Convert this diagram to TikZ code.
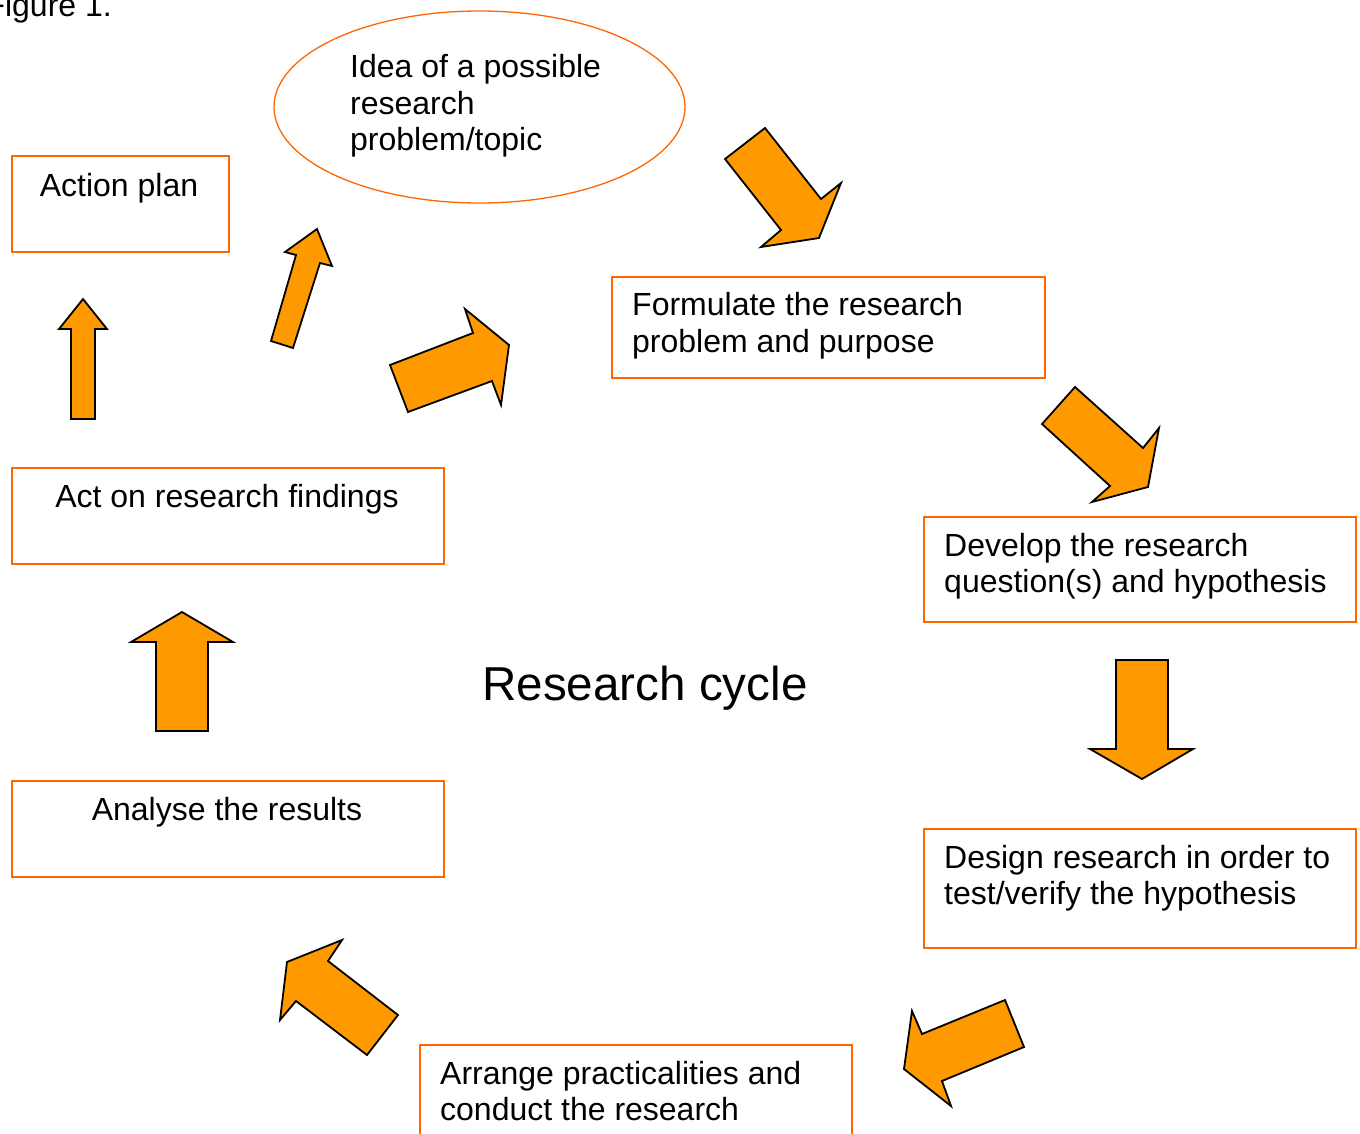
\documentclass[tikz,border=0pt]{standalone}
\usepackage{fontspec}
\setmainfont{Liberation Sans}
\usetikzlibrary{shapes.geometric}

\definecolor{boxorange}{RGB}{255,102,0}
\definecolor{arroworange}{RGB}{255,153,0}

\tikzset{
	cyclebox/.style={draw=boxorange, line width=1.6pt, inner sep=0pt, anchor=north west},
	cycletext/.style={font=\fontsize{32}{36.5}\selectfont, inner sep=0pt, align=left},
	blockarrow/.style={draw=black, fill=arroworange, line width=1.8pt},
}

\begin{document}
\begin{tikzpicture}[x=1pt,y=-1pt]
			
			\useasboundingbox (0,0) rectangle (1360,1133);
			\clip (0,0) rectangle (1360,1133);
			
			\node[cycletext, anchor=base east] (figlabel) at (112,16) {Figure 1.};
			
			% the idea (base of a multi-line node = its last line)
			\node[draw=boxorange, line width=1.3pt, ellipse, minimum width=411pt, minimum height=192pt, inner sep=0pt] (idea) at (479.5,107) {};
			\node[cycletext, anchor=base west] (ideatext) at (350,150.5) {Idea of a possible\\research\\problem/topic};
			
			% steps, right hand side
			\node[cyclebox, minimum width=433pt, minimum height=101pt] (formulate) at (611,276) {};
			\node[cycletext, anchor=base west] (formulatetext) at (632,352) {Formulate the research\\problem and purpose};
			%
			\node[cyclebox, minimum width=432pt, minimum height=105pt] (develop) at (923,516) {};
			\node[cycletext, anchor=base west] (developtext) at (944,592.5) {Develop the research\\question(s) and hypothesis};
			%
			\node[cyclebox, minimum width=432pt, minimum height=119pt] (design) at (923,828) {};
			\node[cycletext, anchor=base west] (designtext) at (944,904.5) {Design research in order to\\test/verify the hypothesis};
			%
			\node[cyclebox, minimum width=432pt, minimum height=130pt] (arrange) at (419,1044) {};
			\node[cycletext, anchor=base west] (arrangetext) at (440,1120.5) {Arrange practicalities and\\conduct the research};
			
			% steps, left hand side
			\node[cyclebox, minimum width=432pt, minimum height=96pt] (analyse) at (11,780) {};
			\node[cycletext, anchor=base] (analysetext) at (227,820) {Analyse the results};
			%
			\node[cyclebox, minimum width=432pt, minimum height=96pt] (act) at (11,467) {};
			\node[cycletext, anchor=base] (acttext) at (227,507) {Act on research findings};
			%
			\node[cyclebox, minimum width=217pt, minimum height=96pt] (plan) at (11,155) {};
			\node[cycletext, anchor=base] (plantext) at (119,196) {Action plan};
			
			\node[font=\fontsize{47.6}{56}\selectfont, inner sep=0pt, anchor=base] (cycletitle) at (645,700) {Research cycle};
			
			% block arrows
			\draw[blockarrow] (725,159) -- (765,128) -- (821,199) -- (841,183) -- (819,238) -- (761,247) -- (781,230) -- cycle;
			\draw[blockarrow] (1075,387) -- (1143,448) -- (1159,428) -- (1148,487) -- (1092,502) -- (1110,486) -- (1042,424) -- cycle;
			\draw[blockarrow] (1116,660) -- (1168,660) -- (1168,749) -- (1193,749) -- (1142,779) -- (1090,749) -- (1116,749) -- cycle;
			\draw[blockarrow] (1005,1000) -- (1024,1047) -- (942,1081) -- (951,1106) -- (904,1069) -- (912,1011) -- (922,1034) -- cycle;
			\draw[blockarrow] (398,1015) -- (367,1055) -- (296,1001) -- (280,1020) -- (287,962) -- (342,940) -- (328,961) -- cycle;
			\draw[blockarrow] (156,731) -- (208,731) -- (208,642) -- (233,642) -- (182,612) -- (131,642) -- (156,642) -- cycle;
			\draw[blockarrow] (71,419) -- (95,419) -- (95,329) -- (107,329) -- (83,299) -- (59,329) -- (71,329) -- cycle;
			\draw[blockarrow] (271,341) -- (293,348) -- (320,263) -- (332,266) -- (317,229) -- (285,252) -- (296,255) -- cycle;
			\draw[blockarrow] (408,412) -- (390,365) -- (473,333) -- (465,309) -- (509,345) -- (501,405) -- (492,381) -- cycle;
			
\end{tikzpicture}
\end{document}
